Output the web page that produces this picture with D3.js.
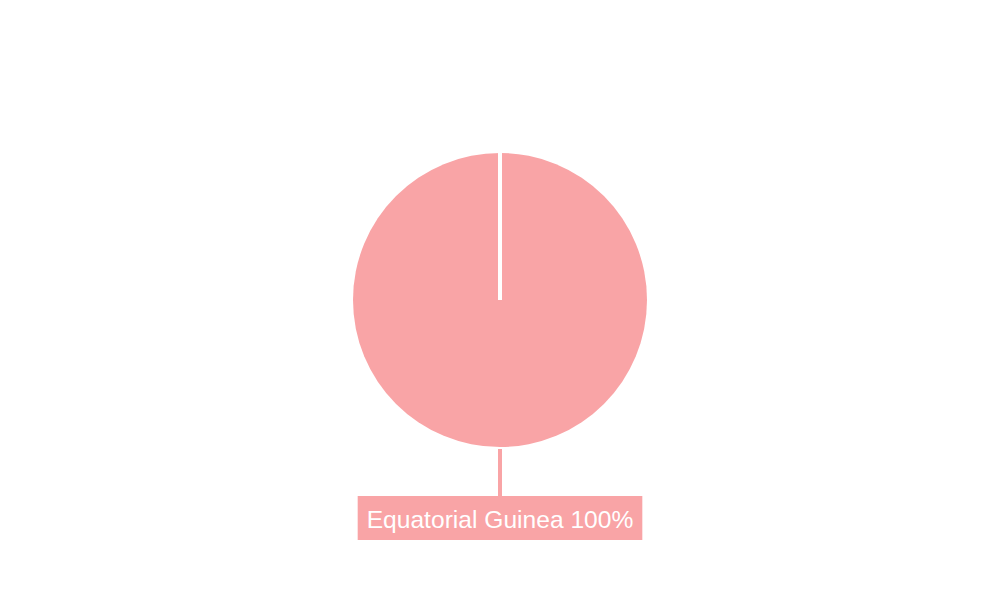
<!DOCTYPE html>
<html>
<head>
<meta charset="utf-8">
<script src="https://cdn.jsdelivr.net/npm/d3@7"></script>
<style>
  html, body { margin: 0; padding: 0; background: #fff; }
  svg { display: block; }
</style>
</head>
<body>
<script>
// chart data
var categories = ["Equatorial Guinea"];
var values = [100];
var colors = ["#f9a4a6"];

var width = 1000, height = 600;
var cx = 500, cy = 300, radius = 147;

var parsedData = categories.map(function(c, i) {
  return {name: c, value: values[i]};
});
var total = d3.sum(values);

var svg = d3.select("body").append("svg")
    .attr("width", width)
    .attr("height", height);

var g = svg.append("g")
    .attr("transform", "translate(" + cx + "," + cy + ")");

var pie = d3.pie()
    .sort(null)
    .value(function(d) { return d.value; });

var arc = d3.arc()
    .innerRadius(0)
    .outerRadius(radius);

var arcs = pie(parsedData);

// slices
g.selectAll("path.slice")
    .data(arcs)
    .enter()
    .append("path")
    .attr("class", "slice")
    .attr("d", arc)
    .style("fill", function(d, i) { return colors[i % colors.length]; });

// white border along each slice's start edge
g.selectAll("line.edge")
    .data(arcs)
    .enter()
    .append("line")
    .attr("class", "edge")
    .attr("x1", 0).attr("y1", 0)
    .attr("x2", function(d) { return d3.pointRadial(d.startAngle, radius + 1)[0]; })
    .attr("y2", function(d) { return d3.pointRadial(d.startAngle, radius + 1)[1]; })
    .style("stroke", "#fff")
    .style("stroke-width", 4);

// label leader lines
var mid = function(d) { return (d.startAngle + d.endAngle) / 2; };
g.selectAll("line.leader")
    .data(arcs)
    .enter()
    .append("line")
    .attr("class", "leader")
    .attr("x1", function(d) { return d3.pointRadial(mid(d), radius + 2)[0]; })
    .attr("y1", function(d) { return d3.pointRadial(mid(d), radius + 2)[1]; })
    .attr("x2", function(d) { return d3.pointRadial(mid(d), radius + 49)[0]; })
    .attr("y2", function(d) { return d3.pointRadial(mid(d), radius + 49)[1]; })
    .style("stroke", function(d, i) { return colors[i % colors.length]; })
    .style("stroke-width", 4);

// labels with coloured boxes
var labels = g.selectAll("g.label")
    .data(arcs)
    .enter()
    .append("g")
    .attr("class", "label")
    .attr("transform", function(d) {
      var p = d3.pointRadial(mid(d), radius + 49);
      return "translate(" + p[0] + "," + p[1] + ")";
    });

labels.each(function(d, i) {
  var lg = d3.select(this);
  var txt = lg.append("text")
      .text(d.data.name + " " + Math.round(d.value / total * 100) + "%")
      .attr("text-anchor", "middle")
      .attr("y", 32)
      .style("font-family", "'Liberation Sans', Arial, sans-serif")
      .style("font-size", "24.6px")
      .style("fill", "#fff");
  var w = txt.node().getComputedTextLength() + 18;
  lg.insert("rect", "text")
      .attr("x", -w / 2)
      .attr("y", 0)
      .attr("width", w)
      .attr("height", 44)
      .style("fill", colors[i % colors.length]);
});
</script>
</body>
</html>
